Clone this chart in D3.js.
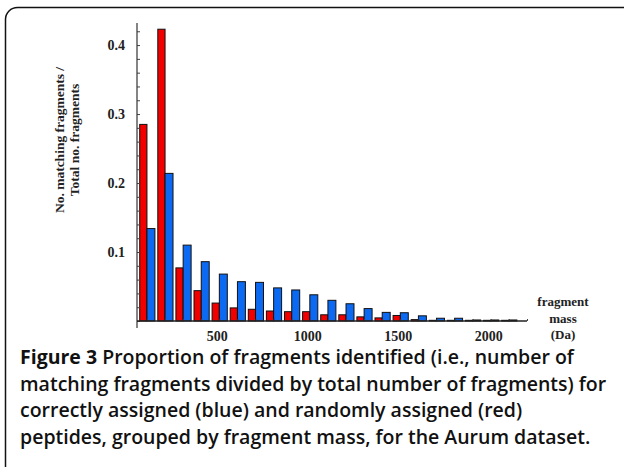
<!DOCTYPE html>
<html>
<head>
<meta charset="utf-8">
<script src="https://cdn.jsdelivr.net/npm/d3@7"></script>
<style>
  body { margin: 0; background: #fff; }
  svg { display: block; }
</style>
</head>
<body>
<svg id="chart"></svg>
<script>
const width = 624;
const height = 467;

// fragment mass bins (Da)
const masses = [100, 200, 300, 400, 500, 600, 700, 800, 900, 1000, 1100,
                1200, 1300, 1400, 1500, 1600, 1700, 1800, 1900, 2000, 2100];
// randomly assigned (red)
const randomVals = [0.285, 0.423, 0.077, 0.044, 0.026, 0.019, 0.017, 0.0145, 0.0135, 0.0135, 0.009,
                    0.009, 0.006, 0.0045, 0.008, 0.002, 0.001, 0.001, 0.001, 0.001, 0.001];
// correctly assigned (blue)
const correctVals = [0.134, 0.214, 0.110, 0.086, 0.068, 0.057, 0.056, 0.048, 0.045, 0.038, 0.030,
                     0.025, 0.018, 0.0125, 0.012, 0.0075, 0.004, 0.004, 0.0015, 0.0015, 0.0015];
const xTicks = [500, 1000, 1500, 2000];
const yTicks = [0.1, 0.2, 0.3, 0.4];
const captionLines = [
  ["Figure 3", " Proportion of fragments identified (i.e., number of"],
  ["", "matching fragments divided by total number of fragments) for"],
  ["", "correctly assigned (blue) and randomly assigned (red)"],
  ["", "peptides, grouped by fragment mass, for the Aurum dataset."]
];

const svg = d3.select("#chart")
  .attr("width", width)
  .attr("height", height);

// rounded frame
svg.append("rect")
  .attr("x", 5.5).attr("y", 7.5)
  .attr("width", 640).attr("height", 480)
  .attr("rx", 12).attr("ry", 12)
  .attr("fill", "none")
  .attr("stroke", "#111")
  .attr("stroke-width", 1.5);

const xScale = d3.scaleLinear().domain([45, 2200]).range([137, 527]);
const yScale = d3.scaleLinear().domain([0, 0.432]).range([321, 23]);

const serif = "'Liberation Serif', 'DejaVu Serif', serif";

// bars
const groups = masses.map((m, i) => ({ m, r: randomVals[i], b: correctVals[i] }));

svg.append("g").selectAll("rect")
  .data(groups)
  .enter()
  .append("rect")
    .attr("x", d => xScale(d.m - 40))
    .attr("y", d => yScale(d.r))
    .attr("width", d => xScale(d.m) - xScale(d.m - 40))
    .attr("height", d => yScale(0) - yScale(d.r))
    .attr("fill", "#f20000")
    .attr("stroke", "#111")
    .attr("stroke-width", 1);

svg.append("g").selectAll("rect")
  .data(groups)
  .enter()
  .append("rect")
    .attr("x", d => xScale(d.m))
    .attr("y", d => yScale(d.b))
    .attr("width", d => xScale(d.m + 44) - xScale(d.m))
    .attr("height", d => yScale(0) - yScale(d.b))
    .attr("fill", "#0c6af2")
    .attr("stroke", "#111")
    .attr("stroke-width", 1);

// y axis, ticks pointing into the plot
const yAxis = d3.axisRight(yScale)
  .tickValues(d3.range(0, 0.43, 0.02))
  .tickSize(3)
  .tickFormat("");
svg.append("g")
  .attr("transform", "translate(137,0)")
  .call(yAxis)
  .call(g => g.select(".domain").remove())
  .call(g => g.selectAll("line").attr("stroke", "#444"));

svg.append("line")
  .attr("x1", 137).attr("x2", 137)
  .attr("y1", yScale(0.432)).attr("y2", 328)
  .attr("stroke", "#333").attr("stroke-width", 1.2);

svg.append("g").selectAll("text")
  .data(yTicks)
  .enter()
  .append("text")
    .attr("x", 125)
    .attr("y", d => yScale(d) + 5)
    .attr("text-anchor", "end")
    .style("font-family", serif)
    .style("font-weight", "bold")
    .style("font-size", "14px")
    .attr("fill", "#222")
    .text(d => d3.format(".1f")(d));

// x axis
const xAxis = d3.axisTop(xScale)
  .tickValues(d3.range(100, 2201, 100))
  .tickSize(2)
  .tickFormat("");
svg.append("g")
  .attr("transform", "translate(0,321)")
  .call(xAxis)
  .call(g => g.select(".domain").remove())
  .call(g => g.selectAll("line").attr("stroke", "#444"));

svg.append("line")
  .attr("x1", 137).attr("x2", xScale(2200))
  .attr("y1", 321).attr("y2", 321)
  .attr("stroke", "#222").attr("stroke-width", 1.4);

svg.append("g").selectAll("text")
  .data(xTicks)
  .enter()
  .append("text")
    .attr("x", d => xScale(d) - 2)
    .attr("y", 341)
    .attr("text-anchor", "middle")
    .style("font-family", serif)
    .style("font-weight", "bold")
    .style("font-size", "14px")
    .attr("fill", "#222")
    .text(d => d);

// x axis title
svg.append("text")
  .attr("x", 563)
  .attr("y", 306)
  .attr("text-anchor", "middle")
  .style("font-family", serif)
  .style("font-weight", "bold")
  .style("font-size", "13px")
  .attr("fill", "#222")
  .selectAll("tspan")
  .data(["fragment", "mass", "(Da)"])
  .enter()
  .append("tspan")
    .attr("x", 563)
    .attr("dy", (d, i) => i === 0 ? 0 : 16.5)
    .text(d => d);

// y axis title
svg.append("text")
  .attr("transform", "translate(64,140) rotate(-90)")
  .attr("text-anchor", "middle")
  .style("font-family", serif)
  .style("font-weight", "bold")
  .style("font-size", "13.5px")
  .attr("fill", "#222")
  .selectAll("tspan")
  .data(["No. matching fragments /", "Total no. fragments"])
  .enter()
  .append("tspan")
    .attr("x", 0)
    .attr("dy", (d, i) => i === 0 ? 0 : 15)
    .text(d => d);

// caption
const caption = svg.append("g")
  .style("font-family", "'Open Sans', 'Noto Sans', sans-serif")
  .style("font-size", "19.5px")
  .style("font-weight", 600)
  .attr("fill", "#111");

captionLines.forEach((parts, i) => {
  const t = caption.append("text")
    .attr("x", 20)
    .attr("y", 364 + i * 26.5);
  if (parts[0]) {
    t.append("tspan").style("font-weight", "bold").text(parts[0]);
  }
  t.append("tspan").text(parts[1]);
});
</script>
</body>
</html>
